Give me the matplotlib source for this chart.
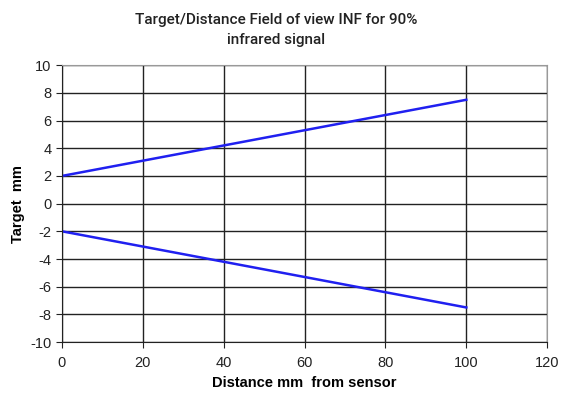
import matplotlib
matplotlib.use("Agg")
import matplotlib.pyplot as plt

plt.rcParams["font.family"] = ["Liberation Sans", "DejaVu Sans"]
plt.rcParams["axes.unicode_minus"] = False

# data
distance = [0, 20, 40, 60, 80, 100]
upper = [2.0, 3.1, 4.2, 5.3, 6.4, 7.5]
lower = [-2.0, -3.1, -4.2, -5.3, -6.4, -7.5]

fig = plt.figure(figsize=(5.65, 3.95), dpi=100)
ax = fig.add_axes([0.1097, 0.134, 0.8587, 0.701])

ax.plot(distance, upper, color="#2020f0", linewidth=1.8)
ax.plot(distance, lower, color="#2020f0", linewidth=1.8)

ax.set_xlim(0, 120)
ax.set_ylim(-10, 10)
ax.set_xticks(range(0, 121, 20))
ax.set_yticks(range(-10, 11, 2))
ax.grid(True, color="#222222", linewidth=1.0)
ax.set_axisbelow(True)

for side in ["top", "right"]:
    ax.spines[side].set_color("#999999")
for side in ["left", "bottom"]:
    ax.spines[side].set_color("#222222")
ax.tick_params(axis="both", direction="out", length=4, labelsize=10.5, colors="#222222")
ax.tick_params(axis="x", pad=6)

ax.set_xlabel("Distance mm  from sensor", fontsize=10.5, fontweight="bold", labelpad=4)
ax.set_ylabel("Target  mm", fontsize=10.5, fontweight="bold", labelpad=4)

fig.text(0.488, 0.968, "Target/Distance Field of view INF for 90%\ninfrared signal",
         ha="center", va="top", fontsize=11, linespacing=1.6,
         family=["Roboto", "DejaVu Sans"], fontweight="medium", color="#222222")

fig.savefig("out.png", dpi=100)
